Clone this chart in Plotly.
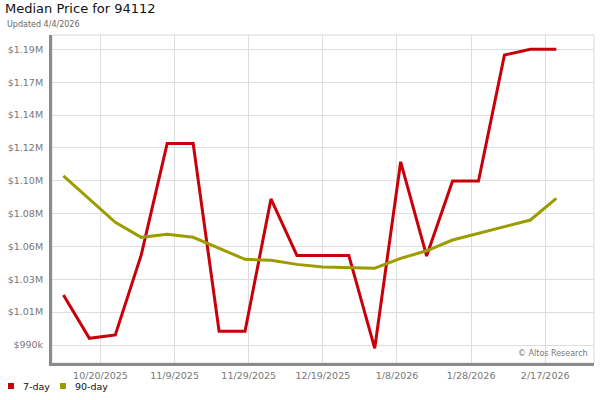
import plotly.graph_objects as go

dates = ["2025-10-10", "2025-10-17", "2025-10-24", "2025-10-31", "2025-11-07",
         "2025-11-14", "2025-11-21", "2025-11-28", "2025-12-05", "2025-12-12",
         "2025-12-19", "2025-12-26", "2026-01-02", "2026-01-09", "2026-01-16",
         "2026-01-23", "2026-01-30", "2026-02-06", "2026-02-13", "2026-02-20"]

price_7day = [1023500, 994500, 996700, 1050300, 1125000,
              1125000, 999200, 999200, 1087800, 1050000,
              1050000, 1050000, 987800, 1112700, 1049600,
              1099800, 1099800, 1184200, 1188000, 1188000]

price_90day = [1103200, 1088000, 1072200, 1062100, 1064100,
               1062100, 1054700, 1047400, 1046700, 1044000,
               1042200, 1042000, 1041400, 1048000, 1053100,
               1060300, 1064800, 1069200, 1073700, 1088200]

y_tickvals = [990000, 1012000, 1034000, 1056000, 1078000,
              1100000, 1122000, 1144000, 1166000, 1188000]
y_ticktext = ["$990k", "$1.01M", "$1.03M", "$1.06M", "$1.08M",
              "$1.10M", "$1.12M", "$1.14M", "$1.17M", "$1.19M"]

x_tickvals = ["2025-10-20", "2025-11-09", "2025-11-29", "2025-12-19",
              "2026-01-08", "2026-01-28", "2026-02-17"]
x_ticktext = ["10/20/2025", "11/9/2025", "11/29/2025", "12/19/2025",
              "1/8/2026", "1/28/2026", "2/17/2026"]

series_names = ["7-day", "90-day"]
series_colors = ["#c8000a", "#9c9c00"]

FONT = "DejaVu Sans"

fig = go.Figure()
fig.add_trace(go.Scatter(x=dates, y=price_7day, mode="lines", name=series_names[0],
                         line=dict(color=series_colors[0], width=3), showlegend=False))
fig.add_trace(go.Scatter(x=dates, y=price_90day, mode="lines", name=series_names[1],
                         line=dict(color=series_colors[1], width=3), showlegend=False))

fig.update_layout(
    width=600, height=400,
    margin=dict(l=52, r=6, t=35, b=37, autoexpand=False),
    paper_bgcolor="white", plot_bgcolor="white",
    font=dict(family=FONT, size=9.5, color="#777"),
    title=dict(text="Median Price for 94112", x=5/600, xref="container", xanchor="left",
               y=1 - 4/400, yref="container", yanchor="top",
               font=dict(family=FONT, size=13, color="#111")),
    showlegend=False,
)

fig.update_xaxes(
    type="date", range=["2025-10-06 22:00", "2026-03-02 04:00"],
    tickvals=x_tickvals, ticktext=x_ticktext,
    showgrid=True, gridcolor="#dddddd", gridwidth=1,
    showline=True, linecolor="#8a8a8a", linewidth=3,
    ticks="outside", ticklen=2, tickcolor="rgba(0,0,0,0)",
    tickfont=dict(family=FONT, size=9.5, color="#777"),
    zeroline=False, fixedrange=True, automargin=False,
)
fig.update_yaxes(
    range=[977950, 1197600],
    tickvals=y_tickvals, ticktext=y_ticktext,
    showgrid=True, gridcolor="#dddddd", gridwidth=1,
    showline=True, linecolor="#8a8a8a", linewidth=3,
    ticks="outside", ticklen=4, tickcolor="rgba(0,0,0,0)",
    tickfont=dict(family=FONT, size=9.5, color="#777"),
    zeroline=False, fixedrange=True, automargin=False,
)

# light border around plot area
fig.add_shape(type="rect", xref="paper", yref="paper", x0=0, x1=1, y0=0, y1=1,
              line=dict(color="#d8d8d8", width=1), layer="below")

# subtitle
fig.add_annotation(text="Updated 4/4/2026", xref="paper", yref="paper",
                   x=-47/542, y=1 + 10/328, xanchor="left", yanchor="middle",
                   showarrow=False, font=dict(family=FONT, size=8, color="#666"))

# watermark
fig.add_annotation(text="© Altos Research", xref="paper", yref="paper",
                   x=1 - 4/542, y=3/328, xanchor="right", yanchor="bottom",
                   showarrow=False, font=dict(family=FONT, size=8, color="#777"))

# legend (manual)
leg_x = [8, 60]
for i, name in enumerate(series_names):
    x0 = (leg_x[i] - 52) / 542
    x1 = (leg_x[i] + 6 - 52) / 542
    fig.add_shape(type="rect", xref="paper", yref="paper",
                  x0=x0, x1=x1, y0=-(383 - 363) / 328, y1=-(389 - 363) / 328,
                  fillcolor=series_colors[i], line=dict(width=0))
    fig.add_annotation(text=name, xref="paper", yref="paper",
                       x=(leg_x[i] + 13 - 52) / 542, y=-(386 - 363) / 328,
                       xanchor="left", yanchor="middle", showarrow=False,
                       font=dict(family=FONT, size=9.5, color="#111"))

fig.write_html("out.html", config={"displayModeBar": False},
               post_script="document.body.style.margin='0';document.body.style.overflow='hidden';")
